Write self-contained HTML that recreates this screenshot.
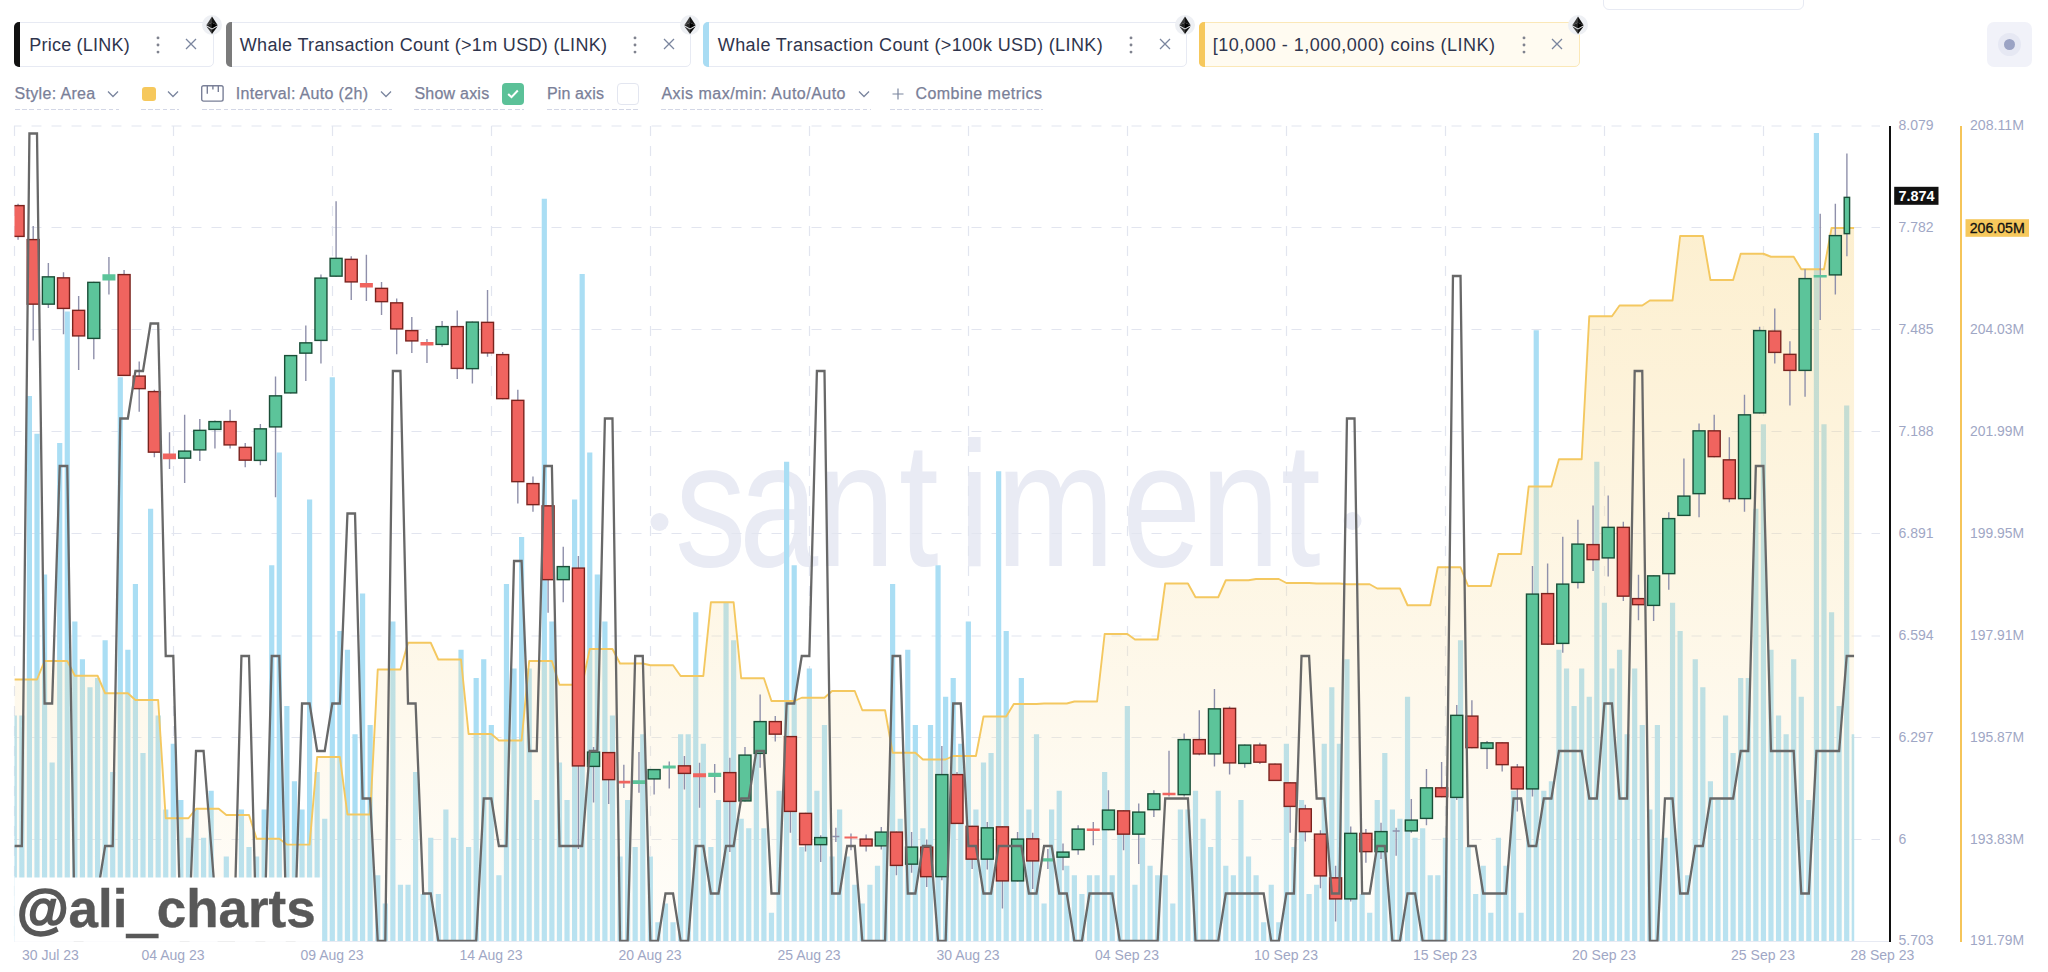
<!DOCTYPE html>
<html><head><meta charset="utf-8"><title>Santiment chart</title>
<style>
html,body{margin:0;padding:0;background:#fff}
body{width:2048px;height:972px;position:relative;overflow:hidden;font-family:"Liberation Sans",Arial,sans-serif}
.chip{position:absolute;top:22px;height:45.3px;box-sizing:border-box;border:1px solid #e7eaf3;border-radius:5px;background:#fff}
.chip.y{background:#fffbf1;border-color:#fbe8b8}
.chip .bar{position:absolute;left:-1px;top:-1px;bottom:-1px;width:5.6px;border-radius:5px 0 0 5px}
.ct{position:absolute;top:-1px;height:44px;line-height:46.3px;font-size:18px;color:#2f354d;white-space:nowrap}
.dots{position:absolute;top:12px;fill:#80838f}
.xx{position:absolute;top:15px;stroke:#7a859e;stroke-width:1.3;fill:none}
.ethw{position:absolute;top:14.5px;width:20px;height:20px}
.opt{position:absolute;top:82px;height:28.3px;line-height:23.6px;font-size:16px;color:#7a8098;background:repeating-linear-gradient(90deg,#d3d7e6 0 4.8px,transparent 4.8px 7.2px) left bottom/100% 1.4px no-repeat;white-space:nowrap;box-sizing:border-box}
.opt span{position:absolute;top:0;-webkit-text-stroke:0.25px #7a8098}
.chev{position:absolute;top:8px;stroke:#7a859e;stroke-width:1.3;fill:none}
</style></head><body>
<svg width="2048" height="972" viewBox="0 0 2048 972" style="position:absolute;left:0;top:0" font-family="'Liberation Sans', Arial, sans-serif">
<defs><clipPath id="cp"><rect x="14.5" y="100" width="1839.7" height="841.6"/></clipPath>
<linearGradient id="yg" gradientUnits="userSpaceOnUse" x1="0" y1="228" x2="0" y2="941"><stop offset="0" stop-color="#f6c85c" stop-opacity="0.29"/><stop offset="1" stop-color="#f6c85c" stop-opacity="0.03"/></linearGradient></defs>
<g fill="#e9ebf4"><circle cx="659.5" cy="522" r="9"/><circle cx="1352.5" cy="521" r="9"/>
<text transform="scale(0.8,1)" x="843.8 923.8 1020.0 1123.8 1198.1 1245.0 1402.5 1500.6 1601.2" y="566" font-size="178">santiment</text></g>
<path d="M14 126 H1880 M14 227.5 H1880 M14 329.5 H1880 M14 431.5 H1880 M14 533.5 H1880 M14 636 H1880 M14 737.5 H1880 M14 839.5 H1880" stroke="#e2e5ef" stroke-width="1.2" stroke-dasharray="10 10" stroke-dashoffset="2.5" fill="none"/>
<path d="M14.5 126 V941 M173.5 126 V941 M332.5 126 V941 M491.5 126 V941 M650.5 126 V941 M809.5 126 V941 M968.5 126 V941 M1127.5 126 V941 M1286.5 126 V941 M1445.5 126 V941 M1604.5 126 V941 M1763.5 126 V941" stroke="#e2e5ef" stroke-width="1.2" stroke-dasharray="10 10" fill="none"/>
<path d="M14 941.5 H1890" stroke="#e7eaf3" stroke-width="1" fill="none"/>
<g clip-path="url(#cp)">
<path d="M11.68 715.52 h5.2 v225.48 h-5.2zM19.25 715.52 h5.2 v225.48 h-5.2zM26.82 396.09 h5.2 v544.91 h-5.2zM34.40 433.67 h5.2 v507.33 h-5.2zM41.97 574.60 h5.2 v366.40 h-5.2zM49.54 762.50 h5.2 v178.50 h-5.2zM57.11 443.06 h5.2 v497.94 h-5.2zM64.68 311.54 h5.2 v629.46 h-5.2zM72.26 621.57 h5.2 v319.43 h-5.2zM79.83 659.15 h5.2 v281.85 h-5.2zM87.40 687.34 h5.2 v253.66 h-5.2zM94.97 677.94 h5.2 v263.06 h-5.2zM102.54 640.36 h5.2 v300.64 h-5.2zM110.12 771.89 h5.2 v169.11 h-5.2zM117.69 377.30 h5.2 v563.70 h-5.2zM125.26 649.75 h5.2 v291.25 h-5.2zM132.83 583.99 h5.2 v357.01 h-5.2zM140.40 753.10 h5.2 v187.90 h-5.2zM147.98 508.83 h5.2 v432.17 h-5.2zM155.55 715.52 h5.2 v225.48 h-5.2zM163.12 809.47 h5.2 v131.53 h-5.2zM170.69 743.71 h5.2 v197.29 h-5.2zM178.26 800.08 h5.2 v140.92 h-5.2zM185.84 837.65 h5.2 v103.34 h-5.2zM193.41 809.47 h5.2 v131.53 h-5.2zM200.98 837.65 h5.2 v103.34 h-5.2zM208.55 790.68 h5.2 v150.32 h-5.2zM216.12 894.02 h5.2 v46.97 h-5.2zM223.70 856.45 h5.2 v84.55 h-5.2zM231.27 894.02 h5.2 v46.97 h-5.2zM238.84 809.47 h5.2 v131.53 h-5.2zM246.41 847.05 h5.2 v93.95 h-5.2zM253.98 856.45 h5.2 v84.55 h-5.2zM261.56 809.47 h5.2 v131.53 h-5.2zM269.13 565.20 h5.2 v375.80 h-5.2zM276.70 452.46 h5.2 v488.54 h-5.2zM284.27 706.12 h5.2 v234.88 h-5.2zM291.84 781.28 h5.2 v159.72 h-5.2zM299.42 809.47 h5.2 v131.53 h-5.2zM306.99 499.44 h5.2 v441.56 h-5.2zM314.56 771.89 h5.2 v169.11 h-5.2zM322.13 818.87 h5.2 v122.13 h-5.2zM329.70 377.30 h5.2 v563.70 h-5.2zM337.28 630.97 h5.2 v310.03 h-5.2zM344.85 649.75 h5.2 v291.25 h-5.2zM352.42 734.31 h5.2 v206.69 h-5.2zM359.99 593.38 h5.2 v347.62 h-5.2zM367.56 724.91 h5.2 v216.08 h-5.2zM375.14 875.24 h5.2 v65.77 h-5.2zM382.71 903.42 h5.2 v37.58 h-5.2zM390.28 621.57 h5.2 v319.43 h-5.2zM397.85 884.63 h5.2 v56.37 h-5.2zM405.42 884.63 h5.2 v56.37 h-5.2zM413.00 771.89 h5.2 v169.11 h-5.2zM420.57 894.02 h5.2 v46.97 h-5.2zM428.14 837.65 h5.2 v103.34 h-5.2zM435.71 894.02 h5.2 v46.97 h-5.2zM443.28 809.47 h5.2 v131.53 h-5.2zM450.86 837.65 h5.2 v103.34 h-5.2zM458.43 649.75 h5.2 v291.25 h-5.2zM466.00 847.05 h5.2 v93.95 h-5.2zM473.57 677.94 h5.2 v263.06 h-5.2zM481.14 659.15 h5.2 v281.85 h-5.2zM488.72 724.91 h5.2 v216.08 h-5.2zM496.29 875.24 h5.2 v65.77 h-5.2zM503.86 583.99 h5.2 v357.01 h-5.2zM511.43 668.55 h5.2 v272.45 h-5.2zM519.00 537.02 h5.2 v403.98 h-5.2zM526.58 668.55 h5.2 v272.45 h-5.2zM534.15 800.08 h5.2 v140.92 h-5.2zM541.72 198.80 h5.2 v742.20 h-5.2zM549.29 621.57 h5.2 v319.43 h-5.2zM556.86 762.50 h5.2 v178.50 h-5.2zM564.44 800.08 h5.2 v140.92 h-5.2zM572.01 499.44 h5.2 v441.56 h-5.2zM579.58 273.96 h5.2 v667.04 h-5.2zM587.15 452.46 h5.2 v488.54 h-5.2zM594.72 574.60 h5.2 v366.40 h-5.2zM602.30 621.57 h5.2 v319.43 h-5.2zM609.87 715.52 h5.2 v225.48 h-5.2zM617.44 856.45 h5.2 v84.55 h-5.2zM625.01 800.08 h5.2 v140.92 h-5.2zM632.58 847.05 h5.2 v93.95 h-5.2zM640.16 734.31 h5.2 v206.69 h-5.2zM647.73 856.45 h5.2 v84.55 h-5.2zM655.30 922.21 h5.2 v18.79 h-5.2zM662.87 903.42 h5.2 v37.58 h-5.2zM670.44 922.21 h5.2 v18.79 h-5.2zM678.02 734.31 h5.2 v206.69 h-5.2zM685.59 734.31 h5.2 v206.69 h-5.2zM693.16 612.17 h5.2 v328.82 h-5.2zM700.73 743.71 h5.2 v197.29 h-5.2zM708.30 847.05 h5.2 v93.95 h-5.2zM715.88 800.08 h5.2 v140.92 h-5.2zM723.45 602.78 h5.2 v338.22 h-5.2zM731.02 640.36 h5.2 v300.64 h-5.2zM738.59 818.87 h5.2 v122.13 h-5.2zM746.16 828.26 h5.2 v112.74 h-5.2zM753.74 753.10 h5.2 v187.90 h-5.2zM761.31 828.26 h5.2 v112.74 h-5.2zM768.88 912.82 h5.2 v28.18 h-5.2zM776.45 790.68 h5.2 v150.32 h-5.2zM784.02 461.86 h5.2 v479.14 h-5.2zM791.60 565.20 h5.2 v375.80 h-5.2zM799.17 847.05 h5.2 v93.95 h-5.2zM806.74 668.55 h5.2 v272.45 h-5.2zM814.31 790.68 h5.2 v150.32 h-5.2zM821.88 724.91 h5.2 v216.08 h-5.2zM829.46 856.45 h5.2 v84.55 h-5.2zM837.03 809.47 h5.2 v131.53 h-5.2zM844.60 856.45 h5.2 v84.55 h-5.2zM852.17 884.63 h5.2 v56.37 h-5.2zM859.74 903.42 h5.2 v37.58 h-5.2zM867.32 884.63 h5.2 v56.37 h-5.2zM874.89 865.84 h5.2 v75.16 h-5.2zM882.46 847.05 h5.2 v93.95 h-5.2zM890.03 583.99 h5.2 v357.01 h-5.2zM897.60 818.87 h5.2 v122.13 h-5.2zM905.18 649.75 h5.2 v291.25 h-5.2zM912.75 724.91 h5.2 v216.08 h-5.2zM920.32 828.26 h5.2 v112.74 h-5.2zM927.89 724.91 h5.2 v216.08 h-5.2zM935.46 565.20 h5.2 v375.80 h-5.2zM943.04 696.73 h5.2 v244.27 h-5.2zM950.61 677.94 h5.2 v263.06 h-5.2zM958.18 743.71 h5.2 v197.29 h-5.2zM965.75 621.57 h5.2 v319.43 h-5.2zM973.32 809.47 h5.2 v131.53 h-5.2zM980.90 762.50 h5.2 v178.50 h-5.2zM988.47 753.10 h5.2 v187.90 h-5.2zM996.04 471.25 h5.2 v469.75 h-5.2zM1003.61 630.97 h5.2 v310.03 h-5.2zM1011.18 847.05 h5.2 v93.95 h-5.2zM1018.76 677.94 h5.2 v263.06 h-5.2zM1026.33 809.47 h5.2 v131.53 h-5.2zM1033.90 734.31 h5.2 v206.69 h-5.2zM1041.47 903.42 h5.2 v37.58 h-5.2zM1049.04 809.47 h5.2 v131.53 h-5.2zM1056.62 790.68 h5.2 v150.32 h-5.2zM1064.19 865.84 h5.2 v75.16 h-5.2zM1071.76 875.24 h5.2 v65.77 h-5.2zM1079.33 894.02 h5.2 v46.97 h-5.2zM1086.90 875.24 h5.2 v65.77 h-5.2zM1094.48 875.24 h5.2 v65.77 h-5.2zM1102.05 771.89 h5.2 v169.11 h-5.2zM1109.62 875.24 h5.2 v65.77 h-5.2zM1117.19 828.26 h5.2 v112.74 h-5.2zM1124.76 706.12 h5.2 v234.88 h-5.2zM1132.34 884.63 h5.2 v56.37 h-5.2zM1139.91 837.65 h5.2 v103.34 h-5.2zM1147.48 865.84 h5.2 v75.16 h-5.2zM1155.05 875.24 h5.2 v65.77 h-5.2zM1162.62 875.24 h5.2 v65.77 h-5.2zM1170.20 903.42 h5.2 v37.58 h-5.2zM1177.77 809.47 h5.2 v131.53 h-5.2zM1185.34 809.47 h5.2 v131.53 h-5.2zM1192.91 790.68 h5.2 v150.32 h-5.2zM1200.48 818.87 h5.2 v122.13 h-5.2zM1208.06 847.05 h5.2 v93.95 h-5.2zM1215.63 790.68 h5.2 v150.32 h-5.2zM1223.20 865.84 h5.2 v75.16 h-5.2zM1230.77 875.24 h5.2 v65.77 h-5.2zM1238.34 800.08 h5.2 v140.92 h-5.2zM1245.92 856.45 h5.2 v84.55 h-5.2zM1253.49 875.24 h5.2 v65.77 h-5.2zM1261.06 922.21 h5.2 v18.79 h-5.2zM1268.63 884.63 h5.2 v56.37 h-5.2zM1276.20 922.21 h5.2 v18.79 h-5.2zM1283.78 743.71 h5.2 v197.29 h-5.2zM1291.35 847.05 h5.2 v93.95 h-5.2zM1298.92 800.08 h5.2 v140.92 h-5.2zM1306.49 894.02 h5.2 v46.97 h-5.2zM1314.06 884.63 h5.2 v56.37 h-5.2zM1321.64 743.71 h5.2 v197.29 h-5.2zM1329.21 687.34 h5.2 v253.66 h-5.2zM1336.78 743.71 h5.2 v197.29 h-5.2zM1344.35 659.15 h5.2 v281.85 h-5.2zM1351.92 847.05 h5.2 v93.95 h-5.2zM1359.50 894.02 h5.2 v46.97 h-5.2zM1367.07 912.82 h5.2 v28.18 h-5.2zM1374.64 800.08 h5.2 v140.92 h-5.2zM1382.21 753.10 h5.2 v187.90 h-5.2zM1389.78 809.47 h5.2 v131.53 h-5.2zM1397.36 818.87 h5.2 v122.13 h-5.2zM1404.93 696.73 h5.2 v244.27 h-5.2zM1412.50 837.65 h5.2 v103.34 h-5.2zM1420.07 828.26 h5.2 v112.74 h-5.2zM1427.64 875.24 h5.2 v65.77 h-5.2zM1435.22 875.24 h5.2 v65.77 h-5.2zM1442.79 837.65 h5.2 v103.34 h-5.2zM1450.36 753.10 h5.2 v187.90 h-5.2zM1457.93 640.36 h5.2 v300.64 h-5.2zM1465.50 847.05 h5.2 v93.95 h-5.2zM1473.08 894.02 h5.2 v46.97 h-5.2zM1480.65 865.84 h5.2 v75.16 h-5.2zM1488.22 912.82 h5.2 v28.18 h-5.2zM1495.79 837.65 h5.2 v103.34 h-5.2zM1503.36 865.84 h5.2 v75.16 h-5.2zM1510.94 790.68 h5.2 v150.32 h-5.2zM1518.51 912.82 h5.2 v28.18 h-5.2zM1526.08 753.10 h5.2 v187.90 h-5.2zM1533.65 330.33 h5.2 v610.67 h-5.2zM1541.22 790.68 h5.2 v150.32 h-5.2zM1548.80 781.28 h5.2 v159.72 h-5.2zM1556.37 649.75 h5.2 v291.25 h-5.2zM1563.94 668.55 h5.2 v272.45 h-5.2zM1571.51 706.12 h5.2 v234.88 h-5.2zM1579.08 668.55 h5.2 v272.45 h-5.2zM1586.66 696.73 h5.2 v244.27 h-5.2zM1594.23 461.86 h5.2 v479.14 h-5.2zM1601.80 602.78 h5.2 v338.22 h-5.2zM1609.37 668.55 h5.2 v272.45 h-5.2zM1616.94 649.75 h5.2 v291.25 h-5.2zM1624.52 734.31 h5.2 v206.69 h-5.2zM1632.09 668.55 h5.2 v272.45 h-5.2zM1639.66 724.91 h5.2 v216.08 h-5.2zM1647.23 809.47 h5.2 v131.53 h-5.2zM1654.80 724.91 h5.2 v216.08 h-5.2zM1662.38 837.65 h5.2 v103.34 h-5.2zM1669.95 602.78 h5.2 v338.22 h-5.2zM1677.52 630.97 h5.2 v310.03 h-5.2zM1685.09 875.24 h5.2 v65.77 h-5.2zM1692.66 659.15 h5.2 v281.85 h-5.2zM1700.24 687.34 h5.2 v253.66 h-5.2zM1707.81 781.28 h5.2 v159.72 h-5.2zM1715.38 800.08 h5.2 v140.92 h-5.2zM1722.95 715.52 h5.2 v225.48 h-5.2zM1730.52 753.10 h5.2 v187.90 h-5.2zM1738.10 677.94 h5.2 v263.06 h-5.2zM1745.67 677.94 h5.2 v263.06 h-5.2zM1753.24 508.83 h5.2 v432.17 h-5.2zM1760.81 424.27 h5.2 v516.73 h-5.2zM1768.38 649.75 h5.2 v291.25 h-5.2zM1775.96 715.52 h5.2 v225.48 h-5.2zM1783.53 734.31 h5.2 v206.69 h-5.2zM1791.10 659.15 h5.2 v281.85 h-5.2zM1798.67 696.73 h5.2 v244.27 h-5.2zM1806.24 800.08 h5.2 v140.92 h-5.2zM1813.82 133.03 h5.2 v807.97 h-5.2zM1821.39 424.27 h5.2 v516.73 h-5.2zM1828.96 612.17 h5.2 v328.82 h-5.2zM1836.53 706.12 h5.2 v234.88 h-5.2zM1844.10 405.49 h5.2 v535.51 h-5.2zM1851.68 734.31 h5.2 v206.69 h-5.2z" fill="#aadef4"/>
<path d="M14.28 679.50 L21.85 679.50 L29.42 679.50 L37.00 679.50 L44.57 661.00 L52.14 661.00 L59.71 661.00 L67.28 661.00 L74.86 675.75 L82.43 675.75 L90.00 675.75 L97.57 675.75 L105.14 693.25 L112.72 693.25 L120.29 693.25 L127.86 693.25 L135.43 700.00 L143.00 700.00 L150.58 700.00 L158.15 700.00 L165.72 818.25 L173.29 818.25 L180.86 818.25 L188.44 818.25 L196.01 808.75 L203.58 808.75 L211.15 808.75 L218.72 808.75 L226.30 815.00 L233.87 815.00 L241.44 815.00 L249.01 815.00 L256.58 838.75 L264.16 838.75 L271.73 838.75 L279.30 838.75 L286.87 844.60 L294.44 844.60 L302.02 844.60 L309.59 844.60 L317.16 757.00 L324.73 757.00 L332.30 757.00 L339.88 757.00 L347.45 814.50 L355.02 814.50 L362.59 814.50 L370.16 814.50 L377.74 669.50 L385.31 669.50 L392.88 669.50 L400.45 669.50 L408.02 642.75 L415.60 642.75 L423.17 642.75 L430.74 642.75 L438.31 659.50 L445.88 659.50 L453.46 659.50 L461.03 659.50 L468.60 734.00 L476.17 734.00 L483.74 734.00 L491.32 734.00 L498.89 740.50 L506.46 740.50 L514.03 740.50 L521.60 740.50 L529.18 661.00 L536.75 661.00 L544.32 661.00 L551.89 661.00 L559.46 684.75 L567.04 684.75 L574.61 684.75 L582.18 684.75 L589.75 649.00 L597.32 649.00 L604.90 649.00 L612.47 649.00 L620.04 663.50 L627.61 663.50 L635.18 663.50 L642.76 663.50 L650.33 665.25 L657.90 665.25 L665.47 665.25 L673.04 665.25 L680.62 676.00 L688.19 676.00 L695.76 676.00 L703.33 676.00 L710.90 602.25 L718.48 602.25 L726.05 602.25 L733.62 602.25 L741.19 678.25 L748.76 678.25 L756.34 678.25 L763.91 678.25 L771.48 701.00 L779.05 701.00 L786.62 701.00 L794.20 701.00 L801.77 697.75 L809.34 697.75 L816.91 697.75 L824.48 697.75 L832.06 691.00 L839.63 691.00 L847.20 691.00 L854.77 691.00 L862.34 710.25 L869.92 710.25 L877.49 710.25 L885.06 710.25 L892.63 752.75 L900.20 752.75 L907.78 752.75 L915.35 752.75 L922.92 759.50 L930.49 759.50 L938.06 759.50 L945.64 759.50 L953.21 756.00 L960.78 756.00 L968.35 756.00 L975.92 756.00 L983.50 716.50 L991.07 716.50 L998.64 716.50 L1006.21 716.50 L1013.78 704.00 L1021.36 704.00 L1028.93 704.00 L1036.50 704.00 L1044.07 703.50 L1051.64 703.50 L1059.22 703.50 L1066.79 703.50 L1074.36 701.50 L1081.93 701.50 L1089.50 701.50 L1097.08 701.50 L1104.65 634.00 L1112.22 634.00 L1119.79 634.00 L1127.36 634.00 L1134.94 639.50 L1142.51 639.50 L1150.08 639.50 L1157.65 639.50 L1165.22 583.50 L1172.80 583.50 L1180.37 583.50 L1187.94 583.50 L1195.51 597.25 L1203.08 597.25 L1210.66 597.25 L1218.23 597.25 L1225.80 580.25 L1233.37 580.25 L1240.94 580.25 L1248.52 580.25 L1256.09 579.00 L1263.66 579.00 L1271.23 579.00 L1278.80 579.00 L1286.38 583.00 L1293.95 583.00 L1301.52 583.00 L1309.09 583.00 L1316.66 583.50 L1324.24 583.50 L1331.81 583.50 L1339.38 583.50 L1346.95 584.25 L1354.52 584.25 L1362.10 584.25 L1369.67 584.25 L1377.24 588.50 L1384.81 588.50 L1392.38 588.50 L1399.96 588.50 L1407.53 605.25 L1415.10 605.25 L1422.67 605.25 L1430.24 605.25 L1437.82 567.25 L1445.39 567.25 L1452.96 567.25 L1460.53 567.25 L1468.10 586.00 L1475.68 586.00 L1483.25 586.00 L1490.82 586.00 L1498.39 554.00 L1505.96 554.00 L1513.54 554.00 L1521.11 554.00 L1528.68 486.50 L1536.25 486.50 L1543.82 486.50 L1551.40 486.50 L1558.97 459.25 L1566.54 459.25 L1574.11 459.25 L1581.68 459.25 L1589.26 316.25 L1596.83 316.25 L1604.40 316.25 L1611.97 316.25 L1619.54 305.50 L1627.12 305.50 L1634.69 305.50 L1642.26 305.50 L1649.83 300.50 L1657.40 300.50 L1664.98 300.50 L1672.55 300.50 L1680.12 236.00 L1687.69 236.00 L1695.26 236.00 L1702.84 236.00 L1710.41 280.00 L1717.98 280.00 L1725.55 280.00 L1733.12 280.00 L1740.70 253.75 L1748.27 253.75 L1755.84 253.75 L1763.41 253.75 L1770.98 256.75 L1778.56 256.75 L1786.13 256.75 L1793.70 256.75 L1801.27 269.25 L1808.84 269.25 L1816.42 269.25 L1823.99 269.25 L1831.56 228.00 L1839.13 228.00 L1846.70 228.00 L1854.28 228.00 L1854.28 941 L14.28 941 Z" fill="#fff" fill-opacity="0.16"/>
<path d="M14.28 679.50 L21.85 679.50 L29.42 679.50 L37.00 679.50 L44.57 661.00 L52.14 661.00 L59.71 661.00 L67.28 661.00 L74.86 675.75 L82.43 675.75 L90.00 675.75 L97.57 675.75 L105.14 693.25 L112.72 693.25 L120.29 693.25 L127.86 693.25 L135.43 700.00 L143.00 700.00 L150.58 700.00 L158.15 700.00 L165.72 818.25 L173.29 818.25 L180.86 818.25 L188.44 818.25 L196.01 808.75 L203.58 808.75 L211.15 808.75 L218.72 808.75 L226.30 815.00 L233.87 815.00 L241.44 815.00 L249.01 815.00 L256.58 838.75 L264.16 838.75 L271.73 838.75 L279.30 838.75 L286.87 844.60 L294.44 844.60 L302.02 844.60 L309.59 844.60 L317.16 757.00 L324.73 757.00 L332.30 757.00 L339.88 757.00 L347.45 814.50 L355.02 814.50 L362.59 814.50 L370.16 814.50 L377.74 669.50 L385.31 669.50 L392.88 669.50 L400.45 669.50 L408.02 642.75 L415.60 642.75 L423.17 642.75 L430.74 642.75 L438.31 659.50 L445.88 659.50 L453.46 659.50 L461.03 659.50 L468.60 734.00 L476.17 734.00 L483.74 734.00 L491.32 734.00 L498.89 740.50 L506.46 740.50 L514.03 740.50 L521.60 740.50 L529.18 661.00 L536.75 661.00 L544.32 661.00 L551.89 661.00 L559.46 684.75 L567.04 684.75 L574.61 684.75 L582.18 684.75 L589.75 649.00 L597.32 649.00 L604.90 649.00 L612.47 649.00 L620.04 663.50 L627.61 663.50 L635.18 663.50 L642.76 663.50 L650.33 665.25 L657.90 665.25 L665.47 665.25 L673.04 665.25 L680.62 676.00 L688.19 676.00 L695.76 676.00 L703.33 676.00 L710.90 602.25 L718.48 602.25 L726.05 602.25 L733.62 602.25 L741.19 678.25 L748.76 678.25 L756.34 678.25 L763.91 678.25 L771.48 701.00 L779.05 701.00 L786.62 701.00 L794.20 701.00 L801.77 697.75 L809.34 697.75 L816.91 697.75 L824.48 697.75 L832.06 691.00 L839.63 691.00 L847.20 691.00 L854.77 691.00 L862.34 710.25 L869.92 710.25 L877.49 710.25 L885.06 710.25 L892.63 752.75 L900.20 752.75 L907.78 752.75 L915.35 752.75 L922.92 759.50 L930.49 759.50 L938.06 759.50 L945.64 759.50 L953.21 756.00 L960.78 756.00 L968.35 756.00 L975.92 756.00 L983.50 716.50 L991.07 716.50 L998.64 716.50 L1006.21 716.50 L1013.78 704.00 L1021.36 704.00 L1028.93 704.00 L1036.50 704.00 L1044.07 703.50 L1051.64 703.50 L1059.22 703.50 L1066.79 703.50 L1074.36 701.50 L1081.93 701.50 L1089.50 701.50 L1097.08 701.50 L1104.65 634.00 L1112.22 634.00 L1119.79 634.00 L1127.36 634.00 L1134.94 639.50 L1142.51 639.50 L1150.08 639.50 L1157.65 639.50 L1165.22 583.50 L1172.80 583.50 L1180.37 583.50 L1187.94 583.50 L1195.51 597.25 L1203.08 597.25 L1210.66 597.25 L1218.23 597.25 L1225.80 580.25 L1233.37 580.25 L1240.94 580.25 L1248.52 580.25 L1256.09 579.00 L1263.66 579.00 L1271.23 579.00 L1278.80 579.00 L1286.38 583.00 L1293.95 583.00 L1301.52 583.00 L1309.09 583.00 L1316.66 583.50 L1324.24 583.50 L1331.81 583.50 L1339.38 583.50 L1346.95 584.25 L1354.52 584.25 L1362.10 584.25 L1369.67 584.25 L1377.24 588.50 L1384.81 588.50 L1392.38 588.50 L1399.96 588.50 L1407.53 605.25 L1415.10 605.25 L1422.67 605.25 L1430.24 605.25 L1437.82 567.25 L1445.39 567.25 L1452.96 567.25 L1460.53 567.25 L1468.10 586.00 L1475.68 586.00 L1483.25 586.00 L1490.82 586.00 L1498.39 554.00 L1505.96 554.00 L1513.54 554.00 L1521.11 554.00 L1528.68 486.50 L1536.25 486.50 L1543.82 486.50 L1551.40 486.50 L1558.97 459.25 L1566.54 459.25 L1574.11 459.25 L1581.68 459.25 L1589.26 316.25 L1596.83 316.25 L1604.40 316.25 L1611.97 316.25 L1619.54 305.50 L1627.12 305.50 L1634.69 305.50 L1642.26 305.50 L1649.83 300.50 L1657.40 300.50 L1664.98 300.50 L1672.55 300.50 L1680.12 236.00 L1687.69 236.00 L1695.26 236.00 L1702.84 236.00 L1710.41 280.00 L1717.98 280.00 L1725.55 280.00 L1733.12 280.00 L1740.70 253.75 L1748.27 253.75 L1755.84 253.75 L1763.41 253.75 L1770.98 256.75 L1778.56 256.75 L1786.13 256.75 L1793.70 256.75 L1801.27 269.25 L1808.84 269.25 L1816.42 269.25 L1823.99 269.25 L1831.56 228.00 L1839.13 228.00 L1846.70 228.00 L1854.28 228.00 L1854.28 941 L14.28 941 Z" fill="url(#yg)"/>
<path d="M14.28 679.50 L21.85 679.50 L29.42 679.50 L37.00 679.50 L44.57 661.00 L52.14 661.00 L59.71 661.00 L67.28 661.00 L74.86 675.75 L82.43 675.75 L90.00 675.75 L97.57 675.75 L105.14 693.25 L112.72 693.25 L120.29 693.25 L127.86 693.25 L135.43 700.00 L143.00 700.00 L150.58 700.00 L158.15 700.00 L165.72 818.25 L173.29 818.25 L180.86 818.25 L188.44 818.25 L196.01 808.75 L203.58 808.75 L211.15 808.75 L218.72 808.75 L226.30 815.00 L233.87 815.00 L241.44 815.00 L249.01 815.00 L256.58 838.75 L264.16 838.75 L271.73 838.75 L279.30 838.75 L286.87 844.60 L294.44 844.60 L302.02 844.60 L309.59 844.60 L317.16 757.00 L324.73 757.00 L332.30 757.00 L339.88 757.00 L347.45 814.50 L355.02 814.50 L362.59 814.50 L370.16 814.50 L377.74 669.50 L385.31 669.50 L392.88 669.50 L400.45 669.50 L408.02 642.75 L415.60 642.75 L423.17 642.75 L430.74 642.75 L438.31 659.50 L445.88 659.50 L453.46 659.50 L461.03 659.50 L468.60 734.00 L476.17 734.00 L483.74 734.00 L491.32 734.00 L498.89 740.50 L506.46 740.50 L514.03 740.50 L521.60 740.50 L529.18 661.00 L536.75 661.00 L544.32 661.00 L551.89 661.00 L559.46 684.75 L567.04 684.75 L574.61 684.75 L582.18 684.75 L589.75 649.00 L597.32 649.00 L604.90 649.00 L612.47 649.00 L620.04 663.50 L627.61 663.50 L635.18 663.50 L642.76 663.50 L650.33 665.25 L657.90 665.25 L665.47 665.25 L673.04 665.25 L680.62 676.00 L688.19 676.00 L695.76 676.00 L703.33 676.00 L710.90 602.25 L718.48 602.25 L726.05 602.25 L733.62 602.25 L741.19 678.25 L748.76 678.25 L756.34 678.25 L763.91 678.25 L771.48 701.00 L779.05 701.00 L786.62 701.00 L794.20 701.00 L801.77 697.75 L809.34 697.75 L816.91 697.75 L824.48 697.75 L832.06 691.00 L839.63 691.00 L847.20 691.00 L854.77 691.00 L862.34 710.25 L869.92 710.25 L877.49 710.25 L885.06 710.25 L892.63 752.75 L900.20 752.75 L907.78 752.75 L915.35 752.75 L922.92 759.50 L930.49 759.50 L938.06 759.50 L945.64 759.50 L953.21 756.00 L960.78 756.00 L968.35 756.00 L975.92 756.00 L983.50 716.50 L991.07 716.50 L998.64 716.50 L1006.21 716.50 L1013.78 704.00 L1021.36 704.00 L1028.93 704.00 L1036.50 704.00 L1044.07 703.50 L1051.64 703.50 L1059.22 703.50 L1066.79 703.50 L1074.36 701.50 L1081.93 701.50 L1089.50 701.50 L1097.08 701.50 L1104.65 634.00 L1112.22 634.00 L1119.79 634.00 L1127.36 634.00 L1134.94 639.50 L1142.51 639.50 L1150.08 639.50 L1157.65 639.50 L1165.22 583.50 L1172.80 583.50 L1180.37 583.50 L1187.94 583.50 L1195.51 597.25 L1203.08 597.25 L1210.66 597.25 L1218.23 597.25 L1225.80 580.25 L1233.37 580.25 L1240.94 580.25 L1248.52 580.25 L1256.09 579.00 L1263.66 579.00 L1271.23 579.00 L1278.80 579.00 L1286.38 583.00 L1293.95 583.00 L1301.52 583.00 L1309.09 583.00 L1316.66 583.50 L1324.24 583.50 L1331.81 583.50 L1339.38 583.50 L1346.95 584.25 L1354.52 584.25 L1362.10 584.25 L1369.67 584.25 L1377.24 588.50 L1384.81 588.50 L1392.38 588.50 L1399.96 588.50 L1407.53 605.25 L1415.10 605.25 L1422.67 605.25 L1430.24 605.25 L1437.82 567.25 L1445.39 567.25 L1452.96 567.25 L1460.53 567.25 L1468.10 586.00 L1475.68 586.00 L1483.25 586.00 L1490.82 586.00 L1498.39 554.00 L1505.96 554.00 L1513.54 554.00 L1521.11 554.00 L1528.68 486.50 L1536.25 486.50 L1543.82 486.50 L1551.40 486.50 L1558.97 459.25 L1566.54 459.25 L1574.11 459.25 L1581.68 459.25 L1589.26 316.25 L1596.83 316.25 L1604.40 316.25 L1611.97 316.25 L1619.54 305.50 L1627.12 305.50 L1634.69 305.50 L1642.26 305.50 L1649.83 300.50 L1657.40 300.50 L1664.98 300.50 L1672.55 300.50 L1680.12 236.00 L1687.69 236.00 L1695.26 236.00 L1702.84 236.00 L1710.41 280.00 L1717.98 280.00 L1725.55 280.00 L1733.12 280.00 L1740.70 253.75 L1748.27 253.75 L1755.84 253.75 L1763.41 253.75 L1770.98 256.75 L1778.56 256.75 L1786.13 256.75 L1793.70 256.75 L1801.27 269.25 L1808.84 269.25 L1816.42 269.25 L1823.99 269.25 L1831.56 228.00 L1839.13 228.00 L1846.70 228.00 L1854.28 228.00" fill="none" stroke="#f4c860" stroke-width="1.9" stroke-linejoin="round"/>
<path d="M18.07 203.75 V239.75" stroke="#8f90ab" stroke-width="1.4"/><rect x="12.07" y="205.60" width="12.00" height="30.80" fill="#f0645f" stroke="#7a231e" stroke-width="1.4"/><path d="M33.21 226.00 V340.50" stroke="#8f90ab" stroke-width="1.4"/><rect x="27.21" y="239.60" width="12.00" height="64.55" fill="#f0645f" stroke="#7a231e" stroke-width="1.4"/><path d="M48.36 263.00 V308.00" stroke="#8f90ab" stroke-width="1.4"/><rect x="42.36" y="276.85" width="12.00" height="27.30" fill="#5cc49a" stroke="#1a4f38" stroke-width="1.4"/><path d="M63.50 272.25 V334.25" stroke="#8f90ab" stroke-width="1.4"/><rect x="57.50" y="277.85" width="12.00" height="30.55" fill="#f0645f" stroke="#7a231e" stroke-width="1.4"/><path d="M78.65 296.00 V370.00" stroke="#8f90ab" stroke-width="1.4"/><rect x="72.65" y="310.35" width="12.00" height="25.55" fill="#f0645f" stroke="#7a231e" stroke-width="1.4"/><path d="M93.79 281.75 V359.25" stroke="#8f90ab" stroke-width="1.4"/><rect x="87.79" y="282.35" width="12.00" height="56.05" fill="#5cc49a" stroke="#1a4f38" stroke-width="1.4"/><path d="M108.93 257.00 V294.50" stroke="#8f90ab" stroke-width="1.4"/><rect x="102.43" y="274.25" width="13.00" height="6.25" fill="#5cc49a"/><path d="M124.08 270.00 V376.00" stroke="#8f90ab" stroke-width="1.4"/><rect x="118.08" y="274.60" width="12.00" height="100.80" fill="#f0645f" stroke="#7a231e" stroke-width="1.4"/><path d="M139.22 361.60 V411.75" stroke="#8f90ab" stroke-width="1.4"/><rect x="133.22" y="376.10" width="12.00" height="12.55" fill="#f0645f" stroke="#7a231e" stroke-width="1.4"/><path d="M154.37 389.70 V457.25" stroke="#8f90ab" stroke-width="1.4"/><rect x="148.37" y="391.60" width="12.00" height="60.55" fill="#f0645f" stroke="#7a231e" stroke-width="1.4"/><path d="M169.51 432.25 V469.00" stroke="#8f90ab" stroke-width="1.4"/><rect x="163.01" y="453.50" width="13.00" height="5.75" fill="#f0645f"/><path d="M184.65 414.75 V483.00" stroke="#8f90ab" stroke-width="1.4"/><rect x="178.65" y="451.10" width="12.00" height="7.05" fill="#5cc49a" stroke="#1a4f38" stroke-width="1.4"/><path d="M199.80 419.00 V461.00" stroke="#8f90ab" stroke-width="1.4"/><rect x="193.80" y="430.35" width="12.00" height="19.55" fill="#5cc49a" stroke="#1a4f38" stroke-width="1.4"/><path d="M214.94 420.50 V448.50" stroke="#8f90ab" stroke-width="1.4"/><rect x="208.94" y="421.60" width="12.00" height="7.80" fill="#5cc49a" stroke="#1a4f38" stroke-width="1.4"/><path d="M230.09 409.75 V448.50" stroke="#8f90ab" stroke-width="1.4"/><rect x="224.09" y="421.60" width="12.00" height="23.30" fill="#f0645f" stroke="#7a231e" stroke-width="1.4"/><path d="M245.23 443.00 V467.25" stroke="#8f90ab" stroke-width="1.4"/><rect x="239.23" y="447.35" width="12.00" height="12.80" fill="#f0645f" stroke="#7a231e" stroke-width="1.4"/><path d="M260.37 424.00 V465.25" stroke="#8f90ab" stroke-width="1.4"/><rect x="254.37" y="428.85" width="12.00" height="31.55" fill="#5cc49a" stroke="#1a4f38" stroke-width="1.4"/><path d="M275.52 376.50 V497.25" stroke="#8f90ab" stroke-width="1.4"/><rect x="269.52" y="395.85" width="12.00" height="31.05" fill="#5cc49a" stroke="#1a4f38" stroke-width="1.4"/><path d="M290.66 355.00 V393.50" stroke="#8f90ab" stroke-width="1.4"/><rect x="284.66" y="355.60" width="12.00" height="37.30" fill="#5cc49a" stroke="#1a4f38" stroke-width="1.4"/><path d="M305.81 325.50 V381.00" stroke="#8f90ab" stroke-width="1.4"/><rect x="299.81" y="342.85" width="12.00" height="10.30" fill="#5cc49a" stroke="#1a4f38" stroke-width="1.4"/><path d="M320.95 274.50 V363.50" stroke="#8f90ab" stroke-width="1.4"/><rect x="314.95" y="278.10" width="12.00" height="62.30" fill="#5cc49a" stroke="#1a4f38" stroke-width="1.4"/><path d="M336.09 201.25 V276.75" stroke="#8f90ab" stroke-width="1.4"/><rect x="330.09" y="258.35" width="12.00" height="17.80" fill="#5cc49a" stroke="#1a4f38" stroke-width="1.4"/><path d="M351.24 256.25 V300.00" stroke="#8f90ab" stroke-width="1.4"/><rect x="345.24" y="259.35" width="12.00" height="22.55" fill="#f0645f" stroke="#7a231e" stroke-width="1.4"/><path d="M366.38 254.75 V301.00" stroke="#8f90ab" stroke-width="1.4"/><rect x="359.88" y="283.00" width="13.00" height="4.50" fill="#f0645f"/><path d="M381.53 282.00 V315.00" stroke="#8f90ab" stroke-width="1.4"/><rect x="375.53" y="288.35" width="12.00" height="13.30" fill="#f0645f" stroke="#7a231e" stroke-width="1.4"/><path d="M396.67 298.50 V354.25" stroke="#8f90ab" stroke-width="1.4"/><rect x="390.67" y="302.85" width="12.00" height="26.05" fill="#f0645f" stroke="#7a231e" stroke-width="1.4"/><path d="M411.81 317.00 V353.00" stroke="#8f90ab" stroke-width="1.4"/><rect x="405.81" y="330.60" width="12.00" height="10.30" fill="#f0645f" stroke="#7a231e" stroke-width="1.4"/><path d="M426.96 339.00 V363.00" stroke="#8f90ab" stroke-width="1.4"/><rect x="420.46" y="342.00" width="13.00" height="3.50" fill="#f0645f"/><path d="M442.10 321.00 V346.75" stroke="#8f90ab" stroke-width="1.4"/><rect x="436.10" y="326.60" width="12.00" height="17.80" fill="#5cc49a" stroke="#1a4f38" stroke-width="1.4"/><path d="M457.25 310.50 V379.00" stroke="#8f90ab" stroke-width="1.4"/><rect x="451.25" y="326.60" width="12.00" height="41.80" fill="#f0645f" stroke="#7a231e" stroke-width="1.4"/><path d="M472.39 321.50 V383.50" stroke="#8f90ab" stroke-width="1.4"/><rect x="466.39" y="322.10" width="12.00" height="46.55" fill="#5cc49a" stroke="#1a4f38" stroke-width="1.4"/><path d="M487.53 290.00 V356.75" stroke="#8f90ab" stroke-width="1.4"/><rect x="481.53" y="322.35" width="12.00" height="30.55" fill="#f0645f" stroke="#7a231e" stroke-width="1.4"/><path d="M502.68 352.00 V399.25" stroke="#8f90ab" stroke-width="1.4"/><rect x="496.68" y="354.60" width="12.00" height="44.05" fill="#f0645f" stroke="#7a231e" stroke-width="1.4"/><path d="M517.82 389.75 V503.50" stroke="#8f90ab" stroke-width="1.4"/><rect x="511.82" y="400.35" width="12.00" height="81.30" fill="#f0645f" stroke="#7a231e" stroke-width="1.4"/><path d="M532.97 476.50 V511.75" stroke="#8f90ab" stroke-width="1.4"/><rect x="526.97" y="483.60" width="12.00" height="21.05" fill="#f0645f" stroke="#7a231e" stroke-width="1.4"/><path d="M548.11 505.25 V612.75" stroke="#8f90ab" stroke-width="1.4"/><rect x="542.11" y="505.85" width="12.00" height="73.80" fill="#f0645f" stroke="#7a231e" stroke-width="1.4"/><path d="M563.25 546.75 V602.25" stroke="#8f90ab" stroke-width="1.4"/><rect x="557.25" y="566.60" width="12.00" height="13.05" fill="#5cc49a" stroke="#1a4f38" stroke-width="1.4"/><path d="M578.40 556.00 V849.00" stroke="#8f90ab" stroke-width="1.4"/><rect x="572.40" y="568.10" width="12.00" height="197.80" fill="#f0645f" stroke="#7a231e" stroke-width="1.4"/><path d="M593.54 747.00 V802.50" stroke="#8f90ab" stroke-width="1.4"/><rect x="587.54" y="752.10" width="12.00" height="14.30" fill="#5cc49a" stroke="#1a4f38" stroke-width="1.4"/><path d="M608.69 752.00 V804.00" stroke="#8f90ab" stroke-width="1.4"/><rect x="602.69" y="752.60" width="12.00" height="27.05" fill="#f0645f" stroke="#7a231e" stroke-width="1.4"/><path d="M623.83 764.75 V788.00" stroke="#8f90ab" stroke-width="1.4"/><rect x="617.33" y="780.75" width="13.00" height="2.75" fill="#f0645f"/><path d="M638.97 752.00 V792.75" stroke="#8f90ab" stroke-width="1.4"/><rect x="632.47" y="780.25" width="13.00" height="3.75" fill="#5cc49a"/><path d="M654.12 769.00 V794.50" stroke="#8f90ab" stroke-width="1.4"/><rect x="648.12" y="769.60" width="12.00" height="9.30" fill="#5cc49a" stroke="#1a4f38" stroke-width="1.4"/><path d="M669.26 761.50 V788.50" stroke="#8f90ab" stroke-width="1.4"/><rect x="662.76" y="765.50" width="13.00" height="3.00" fill="#5cc49a"/><path d="M684.41 756.00 V789.50" stroke="#8f90ab" stroke-width="1.4"/><rect x="678.41" y="765.85" width="12.00" height="7.55" fill="#f0645f" stroke="#7a231e" stroke-width="1.4"/><path d="M699.55 762.75 V807.75" stroke="#8f90ab" stroke-width="1.4"/><rect x="693.05" y="773.25" width="13.00" height="4.00" fill="#f0645f"/><path d="M714.69 764.00 V792.75" stroke="#8f90ab" stroke-width="1.4"/><rect x="708.19" y="772.75" width="13.00" height="4.25" fill="#5cc49a"/><path d="M729.84 757.75 V852.00" stroke="#8f90ab" stroke-width="1.4"/><rect x="723.84" y="772.60" width="12.00" height="28.80" fill="#f0645f" stroke="#7a231e" stroke-width="1.4"/><path d="M744.98 747.00 V801.50" stroke="#8f90ab" stroke-width="1.4"/><rect x="738.98" y="755.10" width="12.00" height="45.80" fill="#5cc49a" stroke="#1a4f38" stroke-width="1.4"/><path d="M760.13 694.50 V767.75" stroke="#8f90ab" stroke-width="1.4"/><rect x="754.13" y="721.60" width="12.00" height="31.80" fill="#5cc49a" stroke="#1a4f38" stroke-width="1.4"/><path d="M775.27 716.00 V741.50" stroke="#8f90ab" stroke-width="1.4"/><rect x="769.27" y="721.60" width="12.00" height="12.55" fill="#f0645f" stroke="#7a231e" stroke-width="1.4"/><path d="M790.41 736.00 V832.75" stroke="#8f90ab" stroke-width="1.4"/><rect x="784.41" y="736.60" width="12.00" height="74.80" fill="#f0645f" stroke="#7a231e" stroke-width="1.4"/><path d="M805.56 812.75 V851.50" stroke="#8f90ab" stroke-width="1.4"/><rect x="799.56" y="813.35" width="12.00" height="31.30" fill="#f0645f" stroke="#7a231e" stroke-width="1.4"/><path d="M820.70 835.25 V862.00" stroke="#8f90ab" stroke-width="1.4"/><rect x="814.70" y="837.60" width="12.00" height="7.05" fill="#5cc49a" stroke="#1a4f38" stroke-width="1.4"/><path d="M835.85 827.75 V842.00" stroke="#8f90ab" stroke-width="1.4"/><path d="M832.35 836.50 H839.35" stroke="#8f90ab" stroke-width="1.4"/><path d="M850.99 833.50 V850.25" stroke="#8f90ab" stroke-width="1.4"/><rect x="844.49" y="836.50" width="13.00" height="2.00" fill="#f0645f"/><path d="M866.13 834.50 V851.50" stroke="#8f90ab" stroke-width="1.4"/><rect x="860.13" y="839.10" width="12.00" height="6.80" fill="#f0645f" stroke="#7a231e" stroke-width="1.4"/><path d="M881.28 827.00 V849.50" stroke="#8f90ab" stroke-width="1.4"/><rect x="875.28" y="832.10" width="12.00" height="13.80" fill="#5cc49a" stroke="#1a4f38" stroke-width="1.4"/><path d="M896.42 831.50 V875.25" stroke="#8f90ab" stroke-width="1.4"/><rect x="890.42" y="832.10" width="12.00" height="33.30" fill="#f0645f" stroke="#7a231e" stroke-width="1.4"/><path d="M911.57 832.00 V872.75" stroke="#8f90ab" stroke-width="1.4"/><rect x="905.57" y="847.10" width="12.00" height="17.05" fill="#5cc49a" stroke="#1a4f38" stroke-width="1.4"/><path d="M926.71 839.50 V887.00" stroke="#8f90ab" stroke-width="1.4"/><rect x="920.71" y="847.10" width="12.00" height="29.55" fill="#f0645f" stroke="#7a231e" stroke-width="1.4"/><path d="M941.85 746.00 V880.25" stroke="#8f90ab" stroke-width="1.4"/><rect x="935.85" y="774.60" width="12.00" height="102.05" fill="#5cc49a" stroke="#1a4f38" stroke-width="1.4"/><path d="M957.00 772.00 V824.00" stroke="#8f90ab" stroke-width="1.4"/><rect x="951.00" y="774.60" width="12.00" height="48.80" fill="#f0645f" stroke="#7a231e" stroke-width="1.4"/><path d="M972.14 825.75 V869.00" stroke="#8f90ab" stroke-width="1.4"/><rect x="966.14" y="826.35" width="12.00" height="32.80" fill="#f0645f" stroke="#7a231e" stroke-width="1.4"/><path d="M987.29 822.00 V869.50" stroke="#8f90ab" stroke-width="1.4"/><rect x="981.29" y="827.85" width="12.00" height="31.30" fill="#5cc49a" stroke="#1a4f38" stroke-width="1.4"/><path d="M1002.43 826.25 V908.50" stroke="#8f90ab" stroke-width="1.4"/><rect x="996.43" y="826.85" width="12.00" height="54.05" fill="#f0645f" stroke="#7a231e" stroke-width="1.4"/><path d="M1017.57 832.00 V881.50" stroke="#8f90ab" stroke-width="1.4"/><rect x="1011.57" y="839.10" width="12.00" height="41.80" fill="#5cc49a" stroke="#1a4f38" stroke-width="1.4"/><path d="M1032.72 832.75 V889.00" stroke="#8f90ab" stroke-width="1.4"/><rect x="1026.72" y="838.85" width="12.00" height="22.05" fill="#f0645f" stroke="#7a231e" stroke-width="1.4"/><path d="M1047.86 849.00 V869.00" stroke="#8f90ab" stroke-width="1.4"/><rect x="1041.36" y="858.25" width="13.00" height="3.25" fill="#5cc49a"/><path d="M1063.01 843.50 V870.25" stroke="#8f90ab" stroke-width="1.4"/><rect x="1057.01" y="852.10" width="12.00" height="5.05" fill="#5cc49a" stroke="#1a4f38" stroke-width="1.4"/><path d="M1078.15 825.25 V854.75" stroke="#8f90ab" stroke-width="1.4"/><rect x="1072.15" y="829.10" width="12.00" height="20.55" fill="#5cc49a" stroke="#1a4f38" stroke-width="1.4"/><path d="M1093.29 822.00 V845.25" stroke="#8f90ab" stroke-width="1.4"/><rect x="1086.79" y="828.50" width="13.00" height="2.50" fill="#f0645f"/><path d="M1108.44 790.25 V830.25" stroke="#8f90ab" stroke-width="1.4"/><rect x="1102.44" y="810.10" width="12.00" height="19.55" fill="#5cc49a" stroke="#1a4f38" stroke-width="1.4"/><path d="M1123.58 810.25 V850.25" stroke="#8f90ab" stroke-width="1.4"/><rect x="1117.58" y="810.85" width="12.00" height="23.30" fill="#f0645f" stroke="#7a231e" stroke-width="1.4"/><path d="M1138.73 803.50 V864.00" stroke="#8f90ab" stroke-width="1.4"/><rect x="1132.73" y="812.10" width="12.00" height="22.05" fill="#5cc49a" stroke="#1a4f38" stroke-width="1.4"/><path d="M1153.87 790.25 V817.00" stroke="#8f90ab" stroke-width="1.4"/><rect x="1147.87" y="793.85" width="12.00" height="15.80" fill="#5cc49a" stroke="#1a4f38" stroke-width="1.4"/><path d="M1169.01 750.75 V796.50" stroke="#8f90ab" stroke-width="1.4"/><rect x="1162.51" y="792.75" width="13.00" height="2.50" fill="#f0645f"/><path d="M1184.16 733.50 V796.50" stroke="#8f90ab" stroke-width="1.4"/><rect x="1178.16" y="739.60" width="12.00" height="55.05" fill="#5cc49a" stroke="#1a4f38" stroke-width="1.4"/><path d="M1199.30 710.25 V755.25" stroke="#8f90ab" stroke-width="1.4"/><rect x="1193.30" y="739.60" width="12.00" height="14.30" fill="#f0645f" stroke="#7a231e" stroke-width="1.4"/><path d="M1214.45 689.00 V766.50" stroke="#8f90ab" stroke-width="1.4"/><rect x="1208.45" y="708.85" width="12.00" height="45.05" fill="#5cc49a" stroke="#1a4f38" stroke-width="1.4"/><path d="M1229.59 706.50 V774.50" stroke="#8f90ab" stroke-width="1.4"/><rect x="1223.59" y="708.35" width="12.00" height="54.55" fill="#f0645f" stroke="#7a231e" stroke-width="1.4"/><path d="M1244.73 744.50 V767.75" stroke="#8f90ab" stroke-width="1.4"/><rect x="1238.73" y="745.10" width="12.00" height="18.30" fill="#5cc49a" stroke="#1a4f38" stroke-width="1.4"/><path d="M1259.88 742.75 V764.00" stroke="#8f90ab" stroke-width="1.4"/><rect x="1253.88" y="745.10" width="12.00" height="17.05" fill="#f0645f" stroke="#7a231e" stroke-width="1.4"/><path d="M1275.02 763.50 V781.00" stroke="#8f90ab" stroke-width="1.4"/><rect x="1269.02" y="764.10" width="12.00" height="16.30" fill="#f0645f" stroke="#7a231e" stroke-width="1.4"/><path d="M1290.17 782.25 V832.75" stroke="#8f90ab" stroke-width="1.4"/><rect x="1284.17" y="782.85" width="12.00" height="23.55" fill="#f0645f" stroke="#7a231e" stroke-width="1.4"/><path d="M1305.31 804.75 V841.50" stroke="#8f90ab" stroke-width="1.4"/><rect x="1299.31" y="808.85" width="12.00" height="22.80" fill="#f0645f" stroke="#7a231e" stroke-width="1.4"/><path d="M1320.45 830.25 V888.25" stroke="#8f90ab" stroke-width="1.4"/><rect x="1314.45" y="834.10" width="12.00" height="41.80" fill="#f0645f" stroke="#7a231e" stroke-width="1.4"/><path d="M1335.60 865.75 V921.50" stroke="#8f90ab" stroke-width="1.4"/><rect x="1329.60" y="877.85" width="12.00" height="21.05" fill="#f0645f" stroke="#7a231e" stroke-width="1.4"/><path d="M1350.74 826.50 V901.50" stroke="#8f90ab" stroke-width="1.4"/><rect x="1344.74" y="833.35" width="12.00" height="65.55" fill="#5cc49a" stroke="#1a4f38" stroke-width="1.4"/><path d="M1365.89 829.00 V862.75" stroke="#8f90ab" stroke-width="1.4"/><rect x="1359.89" y="833.35" width="12.00" height="18.30" fill="#f0645f" stroke="#7a231e" stroke-width="1.4"/><path d="M1381.03 822.75 V859.00" stroke="#8f90ab" stroke-width="1.4"/><rect x="1375.03" y="831.60" width="12.00" height="20.05" fill="#5cc49a" stroke="#1a4f38" stroke-width="1.4"/><path d="M1396.17 827.75 V855.75" stroke="#8f90ab" stroke-width="1.4"/><path d="M1392.67 831.00 H1399.67" stroke="#8f90ab" stroke-width="1.4"/><path d="M1411.32 799.00 V832.75" stroke="#8f90ab" stroke-width="1.4"/><rect x="1405.32" y="820.10" width="12.00" height="10.80" fill="#5cc49a" stroke="#1a4f38" stroke-width="1.4"/><path d="M1426.46 769.00 V825.25" stroke="#8f90ab" stroke-width="1.4"/><rect x="1420.46" y="787.85" width="12.00" height="30.55" fill="#5cc49a" stroke="#1a4f38" stroke-width="1.4"/><path d="M1441.61 762.00 V797.25" stroke="#8f90ab" stroke-width="1.4"/><rect x="1435.61" y="787.85" width="12.00" height="8.80" fill="#f0645f" stroke="#7a231e" stroke-width="1.4"/><path d="M1456.75 705.00 V800.00" stroke="#8f90ab" stroke-width="1.4"/><rect x="1450.75" y="715.35" width="12.00" height="82.05" fill="#5cc49a" stroke="#1a4f38" stroke-width="1.4"/><path d="M1471.89 700.25 V748.25" stroke="#8f90ab" stroke-width="1.4"/><rect x="1465.89" y="716.10" width="12.00" height="31.55" fill="#f0645f" stroke="#7a231e" stroke-width="1.4"/><path d="M1487.04 741.00 V769.00" stroke="#8f90ab" stroke-width="1.4"/><rect x="1481.04" y="742.85" width="12.00" height="5.55" fill="#5cc49a" stroke="#1a4f38" stroke-width="1.4"/><path d="M1502.18 742.25 V771.50" stroke="#8f90ab" stroke-width="1.4"/><rect x="1496.18" y="742.85" width="12.00" height="21.80" fill="#f0645f" stroke="#7a231e" stroke-width="1.4"/><path d="M1517.33 764.00 V811.50" stroke="#8f90ab" stroke-width="1.4"/><rect x="1511.33" y="767.10" width="12.00" height="21.80" fill="#f0645f" stroke="#7a231e" stroke-width="1.4"/><path d="M1532.47 566.00 V796.50" stroke="#8f90ab" stroke-width="1.4"/><rect x="1526.47" y="594.10" width="12.00" height="194.80" fill="#5cc49a" stroke="#1a4f38" stroke-width="1.4"/><path d="M1547.61 563.50 V644.75" stroke="#8f90ab" stroke-width="1.4"/><rect x="1541.61" y="593.60" width="12.00" height="50.55" fill="#f0645f" stroke="#7a231e" stroke-width="1.4"/><path d="M1562.76 536.75 V652.75" stroke="#8f90ab" stroke-width="1.4"/><rect x="1556.76" y="584.10" width="12.00" height="59.30" fill="#5cc49a" stroke="#1a4f38" stroke-width="1.4"/><path d="M1577.90 519.75 V588.50" stroke="#8f90ab" stroke-width="1.4"/><rect x="1571.90" y="544.10" width="12.00" height="38.30" fill="#5cc49a" stroke="#1a4f38" stroke-width="1.4"/><path d="M1593.05 505.50 V571.00" stroke="#8f90ab" stroke-width="1.4"/><rect x="1587.05" y="544.60" width="12.00" height="15.05" fill="#f0645f" stroke="#7a231e" stroke-width="1.4"/><path d="M1608.19 495.50 V576.50" stroke="#8f90ab" stroke-width="1.4"/><rect x="1602.19" y="527.35" width="12.00" height="30.55" fill="#5cc49a" stroke="#1a4f38" stroke-width="1.4"/><path d="M1623.33 521.75 V601.00" stroke="#8f90ab" stroke-width="1.4"/><rect x="1617.33" y="527.35" width="12.00" height="68.80" fill="#f0645f" stroke="#7a231e" stroke-width="1.4"/><path d="M1638.48 574.75 V620.25" stroke="#8f90ab" stroke-width="1.4"/><rect x="1632.48" y="598.60" width="12.00" height="6.05" fill="#f0645f" stroke="#7a231e" stroke-width="1.4"/><path d="M1653.62 575.25 V621.00" stroke="#8f90ab" stroke-width="1.4"/><rect x="1647.62" y="575.85" width="12.00" height="29.55" fill="#5cc49a" stroke="#1a4f38" stroke-width="1.4"/><path d="M1668.77 512.25 V589.75" stroke="#8f90ab" stroke-width="1.4"/><rect x="1662.77" y="518.60" width="12.00" height="55.05" fill="#5cc49a" stroke="#1a4f38" stroke-width="1.4"/><path d="M1683.91 458.50 V516.00" stroke="#8f90ab" stroke-width="1.4"/><rect x="1677.91" y="496.10" width="12.00" height="19.30" fill="#5cc49a" stroke="#1a4f38" stroke-width="1.4"/><path d="M1699.05 423.50 V517.25" stroke="#8f90ab" stroke-width="1.4"/><rect x="1693.05" y="430.85" width="12.00" height="62.80" fill="#5cc49a" stroke="#1a4f38" stroke-width="1.4"/><path d="M1714.20 414.75 V457.25" stroke="#8f90ab" stroke-width="1.4"/><rect x="1708.20" y="430.85" width="12.00" height="25.80" fill="#f0645f" stroke="#7a231e" stroke-width="1.4"/><path d="M1729.34 437.25 V502.25" stroke="#8f90ab" stroke-width="1.4"/><rect x="1723.34" y="459.85" width="12.00" height="38.80" fill="#f0645f" stroke="#7a231e" stroke-width="1.4"/><path d="M1744.49 394.75 V511.75" stroke="#8f90ab" stroke-width="1.4"/><rect x="1738.49" y="414.85" width="12.00" height="83.80" fill="#5cc49a" stroke="#1a4f38" stroke-width="1.4"/><path d="M1759.63 326.75 V413.50" stroke="#8f90ab" stroke-width="1.4"/><rect x="1753.63" y="330.60" width="12.00" height="82.30" fill="#5cc49a" stroke="#1a4f38" stroke-width="1.4"/><path d="M1774.77 308.50 V363.50" stroke="#8f90ab" stroke-width="1.4"/><rect x="1768.77" y="331.10" width="12.00" height="21.30" fill="#f0645f" stroke="#7a231e" stroke-width="1.4"/><path d="M1789.92 341.25 V405.50" stroke="#8f90ab" stroke-width="1.4"/><rect x="1783.92" y="354.35" width="12.00" height="16.05" fill="#f0645f" stroke="#7a231e" stroke-width="1.4"/><path d="M1805.06 269.25 V396.75" stroke="#8f90ab" stroke-width="1.4"/><rect x="1799.06" y="278.60" width="12.00" height="91.80" fill="#5cc49a" stroke="#1a4f38" stroke-width="1.4"/><path d="M1820.21 213.75 V320.00" stroke="#8f90ab" stroke-width="1.4"/><rect x="1813.71" y="275.00" width="13.00" height="2.50" fill="#5cc49a"/><path d="M1835.35 203.75 V294.50" stroke="#8f90ab" stroke-width="1.4"/><rect x="1829.35" y="235.60" width="12.00" height="39.30" fill="#5cc49a" stroke="#1a4f38" stroke-width="1.4"/><path d="M1846.90 153.50 V256.25" stroke="#8f90ab" stroke-width="1.4"/><rect x="1844.20" y="197.35" width="5.40" height="36.30" fill="#5cc49a" stroke="#1a4f38" stroke-width="1.4"/>
<path d="M14.28 846.00 L21.85 846.00 L29.42 133.50 L37.00 133.50 L44.57 703.50 L52.14 703.50 L59.71 466.00 L67.28 466.00 L74.86 941.00 L82.43 941.00 L90.00 893.50 L97.57 893.50 L105.14 846.00 L112.72 846.00 L120.29 418.50 L127.86 418.50 L135.43 371.00 L143.00 371.00 L150.58 323.50 L158.15 323.50 L165.72 656.00 L173.29 656.00 L180.86 941.00 L188.44 941.00 L196.01 751.00 L203.58 751.00 L211.15 846.00 L218.72 941.00 L226.30 941.00 L233.87 941.00 L241.44 656.00 L249.01 656.00 L256.58 941.00 L264.16 941.00 L271.73 656.00 L279.30 656.00 L286.87 941.00 L294.44 941.00 L302.02 703.50 L309.59 703.50 L317.16 751.00 L324.73 751.00 L332.30 703.50 L339.88 703.50 L347.45 513.50 L355.02 513.50 L362.59 798.50 L370.16 798.50 L377.74 941.00 L385.31 941.00 L392.88 371.00 L400.45 371.00 L408.02 703.50 L415.60 703.50 L423.17 893.50 L430.74 893.50 L438.31 941.00 L445.88 941.00 L453.46 941.00 L461.03 941.00 L468.60 941.00 L476.17 941.00 L483.74 798.50 L491.32 798.50 L498.89 846.00 L506.46 846.00 L514.03 561.00 L521.60 561.00 L529.18 751.00 L536.75 751.00 L544.32 466.00 L551.89 466.00 L559.46 846.00 L567.04 846.00 L574.61 846.00 L582.18 846.00 L589.75 751.00 L597.32 751.00 L604.90 418.50 L612.47 418.50 L620.04 941.00 L627.61 941.00 L635.18 656.00 L642.76 656.00 L650.33 941.00 L657.90 941.00 L665.47 893.50 L673.04 893.50 L680.62 941.00 L688.19 941.00 L695.76 846.00 L703.33 846.00 L710.90 893.50 L718.48 893.50 L726.05 846.00 L733.62 846.00 L741.19 798.50 L748.76 798.50 L756.34 751.00 L763.91 751.00 L771.48 893.50 L779.05 893.50 L786.62 703.50 L794.20 703.50 L801.77 656.00 L809.34 656.00 L816.91 371.00 L824.48 371.00 L832.06 893.50 L839.63 893.50 L847.20 846.00 L854.77 846.00 L862.34 941.00 L869.92 941.00 L877.49 941.00 L885.06 941.00 L892.63 656.00 L900.20 656.00 L907.78 893.50 L915.35 893.50 L922.92 846.00 L930.49 846.00 L938.06 941.00 L945.64 941.00 L953.21 703.50 L960.78 703.50 L968.35 846.00 L975.92 846.00 L983.50 893.50 L991.07 893.50 L998.64 846.00 L1006.21 846.00 L1013.78 846.00 L1021.36 846.00 L1028.93 893.50 L1036.50 893.50 L1044.07 846.00 L1051.64 846.00 L1059.22 893.50 L1066.79 893.50 L1074.36 941.00 L1081.93 941.00 L1089.50 893.50 L1097.08 893.50 L1104.65 893.50 L1112.22 893.50 L1119.79 941.00 L1127.36 941.00 L1134.94 941.00 L1142.51 941.00 L1150.08 941.00 L1157.65 941.00 L1165.22 798.50 L1172.80 798.50 L1180.37 798.50 L1187.94 798.50 L1195.51 941.00 L1203.08 941.00 L1210.66 941.00 L1218.23 941.00 L1225.80 893.50 L1233.37 893.50 L1240.94 893.50 L1248.52 893.50 L1256.09 893.50 L1263.66 893.50 L1271.23 941.00 L1278.80 941.00 L1286.38 893.50 L1293.95 893.50 L1301.52 656.00 L1309.09 656.00 L1316.66 798.50 L1324.24 798.50 L1331.81 893.50 L1339.38 893.50 L1346.95 418.50 L1354.52 418.50 L1362.10 893.50 L1369.67 893.50 L1377.24 846.00 L1384.81 846.00 L1392.38 941.00 L1399.96 941.00 L1407.53 893.50 L1415.10 893.50 L1422.67 941.00 L1430.24 941.00 L1437.82 941.00 L1445.39 941.00 L1452.96 276.00 L1460.53 276.00 L1468.10 846.00 L1475.68 846.00 L1483.25 893.50 L1490.82 893.50 L1498.39 893.50 L1505.96 893.50 L1513.54 798.50 L1521.11 798.50 L1528.68 846.00 L1536.25 846.00 L1543.82 798.50 L1551.40 798.50 L1558.97 751.00 L1566.54 751.00 L1574.11 751.00 L1581.68 751.00 L1589.26 798.50 L1596.83 798.50 L1604.40 703.50 L1611.97 703.50 L1619.54 798.50 L1627.12 798.50 L1634.69 371.00 L1642.26 371.00 L1649.83 941.00 L1657.40 941.00 L1664.98 798.50 L1672.55 798.50 L1680.12 893.50 L1687.69 893.50 L1695.26 846.00 L1702.84 846.00 L1710.41 798.50 L1717.98 798.50 L1725.55 798.50 L1733.12 798.50 L1740.70 751.00 L1748.27 751.00 L1755.84 466.00 L1763.41 466.00 L1770.98 751.00 L1778.56 751.00 L1786.13 751.00 L1793.70 751.00 L1801.27 893.50 L1808.84 893.50 L1816.42 751.00 L1823.99 751.00 L1831.56 751.00 L1839.13 751.00 L1846.70 656.00 L1854.28 656.00" fill="none" stroke="#686868" stroke-width="2.3" stroke-linejoin="miter"/>
</g>
<rect x="14.4" y="877.5" width="307.3" height="64.3" fill="#fff"/>
<text x="17" y="927" font-size="52.9" font-weight="bold" fill="#585858" stroke="#585858" stroke-width="0.4"><tspan stroke-width="1.7">@</tspan>ali<tspan stroke-width="2.4" dy="3.4">_</tspan><tspan dy="-3.4">charts</tspan></text>
<path d="M1890 126 V942" stroke="#111" stroke-width="2"/>
<path d="M1961 126 V942" stroke="#f5c55a" stroke-width="2"/>
<g font-size="14" fill="#9fa7c5">
<text x="1898.5" y="130.4">8.079</text>
<text x="1970" y="130.4" textLength="54" lengthAdjust="spacingAndGlyphs">208.11M</text>
<text x="1898.5" y="231.9">7.782</text>
<text x="1898.5" y="333.9">7.485</text>
<text x="1970" y="333.9" textLength="54" lengthAdjust="spacingAndGlyphs">204.03M</text>
<text x="1898.5" y="435.9">7.188</text>
<text x="1970" y="435.9" textLength="54" lengthAdjust="spacingAndGlyphs">201.99M</text>
<text x="1898.5" y="537.9">6.891</text>
<text x="1970" y="537.9" textLength="54" lengthAdjust="spacingAndGlyphs">199.95M</text>
<text x="1898.5" y="640.4">6.594</text>
<text x="1970" y="640.4" textLength="54" lengthAdjust="spacingAndGlyphs">197.91M</text>
<text x="1898.5" y="741.9">6.297</text>
<text x="1970" y="741.9" textLength="54" lengthAdjust="spacingAndGlyphs">195.87M</text>
<text x="1898.5" y="843.9">6</text>
<text x="1970" y="843.9" textLength="54" lengthAdjust="spacingAndGlyphs">193.83M</text>
<text x="1898.5" y="945.4">5.703</text>
<text x="1970" y="945.4" textLength="54" lengthAdjust="spacingAndGlyphs">191.79M</text>
<text x="22" y="959.8">30 Jul 23</text>
<text x="173.0" y="959.8" text-anchor="middle">04 Aug 23</text>
<text x="332.0" y="959.8" text-anchor="middle">09 Aug 23</text>
<text x="491.0" y="959.8" text-anchor="middle">14 Aug 23</text>
<text x="650.0" y="959.8" text-anchor="middle">20 Aug 23</text>
<text x="809.0" y="959.8" text-anchor="middle">25 Aug 23</text>
<text x="968.0" y="959.8" text-anchor="middle">30 Aug 23</text>
<text x="1127.0" y="959.8" text-anchor="middle">04 Sep 23</text>
<text x="1286.0" y="959.8" text-anchor="middle">10 Sep 23</text>
<text x="1445.0" y="959.8" text-anchor="middle">15 Sep 23</text>
<text x="1604.0" y="959.8" text-anchor="middle">20 Sep 23</text>
<text x="1763.0" y="959.8" text-anchor="middle">25 Sep 23</text>
<text x="1850.5" y="959.8">28 Sep 23</text>
</g>
<rect x="1894.2" y="186.8" width="44.3" height="18" fill="#111"/>
<text x="1916.4" y="201" font-size="14" font-weight="bold" fill="#fff" text-anchor="middle" textLength="36" lengthAdjust="spacingAndGlyphs">7.874</text>
<rect x="1965.5" y="219.2" width="63.5" height="17.6" fill="#f6c85c"/>
<text x="1997.2" y="233" font-size="14" fill="#111" text-anchor="middle" textLength="55" lengthAdjust="spacingAndGlyphs" stroke="#111" stroke-width="0.3">206.05M</text>
</svg>
<div style="position:absolute;left:1603px;top:-10.5px;width:200.5px;height:20px;border:1.5px solid #e7eaf3;border-radius:6px;box-sizing:border-box"></div>
<div class="chip " style="left:14px;width:199.5px"><i class="bar" style="background:#111"></i><span class="ct" style="left:14.3px;letter-spacing:0.215px">Price (LINK)</span><svg class="dots" style="left:140px" width="6" height="20" viewBox="0 0 6 20"><circle cx="3" cy="2.9" r="1.45"/><circle cx="3" cy="10" r="1.45"/><circle cx="3" cy="17.1" r="1.45"/></svg><svg class="xx" style="left:170.3px" width="12" height="12" viewBox="0 0 12 12"><path d="M1 1 L11 11 M11 1 L1 11"/></svg></div><div class="ethw" style="left:202.0px"><svg class="eth" width="20" height="20" viewBox="0 0 20 20"><circle cx="10" cy="10" r="10" fill="#eef0f4"/><path d="M10 1.6 L4.3 10.2 L10 7.7z" fill="#3a3a3a"/><path d="M10 1.6 L15.7 10.2 L10 7.7z" fill="#111"/><path d="M10 7.7 L4.3 10.2 L10 13.4z" fill="#222"/><path d="M10 7.7 L15.7 10.2 L10 13.4z" fill="#000"/><path d="M10 14.6 L4.3 11.3 L10 19z" fill="#3a3a3a"/><path d="M10 14.6 L15.7 11.3 L10 19z" fill="#111"/></svg></div>
<div class="chip " style="left:226px;width:465px"><i class="bar" style="background:#7b7b7b"></i><span class="ct" style="left:12.8px;letter-spacing:0.324px">Whale Transaction Count (&gt;1m USD) (LINK)</span><svg class="dots" style="left:405px" width="6" height="20" viewBox="0 0 6 20"><circle cx="3" cy="2.9" r="1.45"/><circle cx="3" cy="10" r="1.45"/><circle cx="3" cy="17.1" r="1.45"/></svg><svg class="xx" style="left:435.6px" width="12" height="12" viewBox="0 0 12 12"><path d="M1 1 L11 11 M11 1 L1 11"/></svg></div><div class="ethw" style="left:679.5px"><svg class="eth" width="20" height="20" viewBox="0 0 20 20"><circle cx="10" cy="10" r="10" fill="#eef0f4"/><path d="M10 1.6 L4.3 10.2 L10 7.7z" fill="#3a3a3a"/><path d="M10 1.6 L15.7 10.2 L10 7.7z" fill="#111"/><path d="M10 7.7 L4.3 10.2 L10 13.4z" fill="#222"/><path d="M10 7.7 L15.7 10.2 L10 13.4z" fill="#000"/><path d="M10 14.6 L4.3 11.3 L10 19z" fill="#3a3a3a"/><path d="M10 14.6 L15.7 11.3 L10 19z" fill="#111"/></svg></div>
<div class="chip " style="left:703px;width:483.5px"><i class="bar" style="background:#a9dcf3"></i><span class="ct" style="left:13.8px;letter-spacing:0.396px">Whale Transaction Count (&gt;100k USD) (LINK)</span><svg class="dots" style="left:424.4000000000001px" width="6" height="20" viewBox="0 0 6 20"><circle cx="3" cy="2.9" r="1.45"/><circle cx="3" cy="10" r="1.45"/><circle cx="3" cy="17.1" r="1.45"/></svg><svg class="xx" style="left:455px" width="12" height="12" viewBox="0 0 12 12"><path d="M1 1 L11 11 M11 1 L1 11"/></svg></div><div class="ethw" style="left:1175.0px"><svg class="eth" width="20" height="20" viewBox="0 0 20 20"><circle cx="10" cy="10" r="10" fill="#eef0f4"/><path d="M10 1.6 L4.3 10.2 L10 7.7z" fill="#3a3a3a"/><path d="M10 1.6 L15.7 10.2 L10 7.7z" fill="#111"/><path d="M10 7.7 L4.3 10.2 L10 13.4z" fill="#222"/><path d="M10 7.7 L15.7 10.2 L10 13.4z" fill="#000"/><path d="M10 14.6 L4.3 11.3 L10 19z" fill="#3a3a3a"/><path d="M10 14.6 L15.7 11.3 L10 19z" fill="#111"/></svg></div>
<div class="chip y" style="left:1199px;width:380.5px"><i class="bar" style="background:#f6c85c"></i><span class="ct" style="left:12.8px;letter-spacing:0.498px">[10,000 - 1,000,000) coins (LINK)</span><svg class="dots" style="left:320.70000000000005px" width="6" height="20" viewBox="0 0 6 20"><circle cx="3" cy="2.9" r="1.45"/><circle cx="3" cy="10" r="1.45"/><circle cx="3" cy="17.1" r="1.45"/></svg><svg class="xx" style="left:351px" width="12" height="12" viewBox="0 0 12 12"><path d="M1 1 L11 11 M11 1 L1 11"/></svg></div><div class="ethw" style="left:1568.0px"><svg class="eth" width="20" height="20" viewBox="0 0 20 20"><circle cx="10" cy="10" r="10" fill="#eef0f4"/><path d="M10 1.6 L4.3 10.2 L10 7.7z" fill="#3a3a3a"/><path d="M10 1.6 L15.7 10.2 L10 7.7z" fill="#111"/><path d="M10 7.7 L4.3 10.2 L10 13.4z" fill="#222"/><path d="M10 7.7 L15.7 10.2 L10 13.4z" fill="#000"/><path d="M10 14.6 L4.3 11.3 L10 19z" fill="#3a3a3a"/><path d="M10 14.6 L15.7 11.3 L10 19z" fill="#111"/></svg></div>
<div style="position:absolute;left:1987px;top:22px;width:45px;height:45px;border-radius:7px;background:#f1f2f9"><div style="position:absolute;left:11px;top:11px;width:23px;height:23px;border-radius:50%;background:#e6e8f3"></div><div style="position:absolute;left:17px;top:17px;width:11px;height:11px;border-radius:50%;background:#9ba3c4"></div></div>
<div class="opt" style="left:14.5px;width:104.5px"><span style="left:0;letter-spacing:0.329px">Style: Area</span><svg class="chev" style="left:92.5px" width="12" height="8" viewBox="0 0 12 8"><path d="M1 1.5 L6 6.5 L11 1.5"/></svg></div>
<div class="opt" style="left:141px;width:38px"><i style="position:absolute;left:1px;top:5px;width:14px;height:14px;border-radius:3px;background:#f6c85c"></i><svg class="chev" style="left:25.5px" width="12" height="8" viewBox="0 0 12 8"><path d="M1 1.5 L6 6.5 L11 1.5"/></svg></div>
<div class="opt" style="left:201.5px;width:190px"><svg style="position:absolute;left:-0.3px;top:3.3px" width="23" height="17" viewBox="0 0 23 17" fill="none" stroke="#7a8098" stroke-width="1.4"><rect x="0.7" y="0.7" width="21.4" height="15.4" rx="1.8"/><path d="M6.3 1 V8.8 M11.9 1 V4.6 M17.3 1 V7"/></svg><span style="left:34.3px;letter-spacing:0.327px">Interval: Auto (2h)</span><svg class="chev" style="left:178.5px" width="12" height="8" viewBox="0 0 12 8"><path d="M1 1.5 L6 6.5 L11 1.5"/></svg></div>
<div class="opt" style="left:414px;width:110px"><span style="left:0.4px;letter-spacing:0.231px">Show axis</span><i style="position:absolute;left:87.5px;top:1px;width:22px;height:21.5px;border-radius:4px;background:#5bc198"></i><svg style="position:absolute;left:92.5px;top:6.5px" width="12" height="10" viewBox="0 0 12 10" fill="none" stroke="#fff" stroke-width="2"><path d="M1.2 5 L4.5 8.2 L10.8 1.5"/></svg></div>
<div class="opt" style="left:547px;width:92px"><span style="left:0;letter-spacing:0.122px">Pin axis</span><i style="position:absolute;left:69.5px;top:1px;width:22px;height:21.5px;border-radius:4px;border:1.3px solid #e3e6f0;box-sizing:border-box;background:#fff"></i></div>
<div class="opt" style="left:661px;width:209.5px"><span style="left:0.4px;letter-spacing:0.487px">Axis max/min: Auto/Auto</span><svg class="chev" style="left:197px" width="12" height="8" viewBox="0 0 12 8"><path d="M1 1.5 L6 6.5 L11 1.5"/></svg></div>
<div class="opt" style="left:890px;width:153px"><svg style="position:absolute;left:2px;top:6px" width="12" height="12" viewBox="0 0 12 12" stroke="#7a859e" stroke-width="1.2"><path d="M6 0.5 V11.5 M0.5 6 H11.5"/></svg><span style="left:25.4px;letter-spacing:0.465px">Combine metrics</span></div>
</body></html>
